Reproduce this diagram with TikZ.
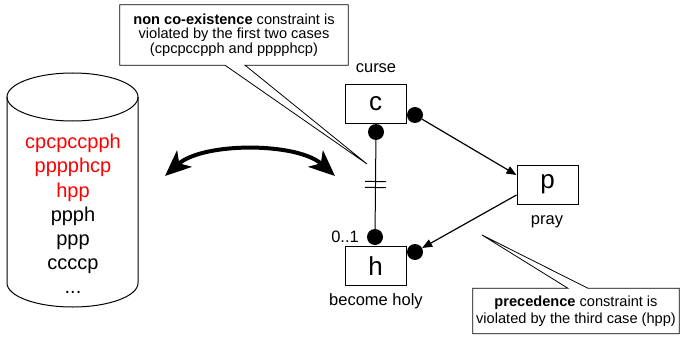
\documentclass[tikz,border=0pt]{standalone}
\usepackage{fontspec}
\setmainfont{Liberation Sans}
\usetikzlibrary{arrows.meta,decorations.markings}
\tikzset{
  attivita/.style = {rectangle, draw, line width=1pt, minimum width=61pt, minimum height=39pt, inner sep=0, font=\fontsize{26}{26}\selectfont},
  pallino/.style  = {circle, fill=black, minimum size=16pt, inner sep=0},
  lbl/.style      = {font=\fontsize{16.5}{18}\selectfont, inner sep=0},
  nota/.style     = {rectangle, inner sep=0, align=center},
  fumetto/.style  = {line width=0.8pt, line join=miter},
  link/.style     = {line width=1pt},
  freccia/.style  = {line width=1.2pt, -{Triangle[length=10pt,width=8pt]}},
  grossa/.style   = {line width=4pt, {Stealth[length=26pt,width=22pt,inset=7pt]}-{Stealth[length=26pt,width=22pt,inset=7pt]}},
  nocoex/.style   = {link, postaction={decorate}, decoration={markings, mark=at position .5 with {
      \draw[line width=1pt] (-3pt,-10.5pt) -- (-3pt,10.5pt) (3pt,-10.5pt) -- (3pt,10.5pt);}}}
}
\begin{document}
\begin{tikzpicture}[x=1pt, y=-1pt]
  \useasboundingbox (0,0) rectangle (680,337);

  % log delle tracce
  \draw[link] (7,97) -- (7,283) arc[start angle=180, end angle=360, x radius=65.5pt, y radius=24pt] -- (138,97);
  \draw[link] (72.5,97) ellipse [x radius=65.5pt, y radius=24pt];
  \node[nota, anchor=north, font=\fontsize{20}{24.2}\selectfont] (casi) at (73,134) {%
    \textcolor{red}{cpcpccpph}\\ \textcolor{red}{pppphcp}\\ \textcolor{red}{hpp}\\ ppph\\ ppp\\ ccccp\\ ...};

  % freccia doppia
  \coordinate (dbl) at (165,176);
  \coordinate (dbr) at (335,176);
  \draw[grossa] (dbl) .. controls (203,142) and (297,142) .. (dbr);

  % modello
  \node[attivita] (c) at (375.5,103.5) {c};
  \node[attivita] (h) at (375.5,266) {h};
  \node[attivita] (p) at (547.5,184.5) {p};

  \node[pallino] (cb) at (376,132) {};
  \node[pallino] (cr) at (415,115) {};
  \node[pallino] (ht) at (375,237) {};
  \node[pallino] (hr) at (415,252) {};

  \node[lbl] (curse) at (376,68) {curse};
  \node[lbl] (pray) at (547,222) {pray};
  \node[lbl] (holy) at (376,301) {become holy};
  \node[lbl, anchor=east] (card) at (359,237) {0..1};

  \draw[nocoex] (cb) -- (ht);
  \draw[freccia] (cr) -- ([yshift=9.5pt]p.west);
  \draw[freccia] ([yshift=-10.5pt]p.west) -- (hr);

  % note
  \node[nota, minimum width=228pt, minimum height=60pt, font=\fontsize{14.6}{14.5}\selectfont] (nc) at (234,35) {%
    \textbf{non co-existence} constraint is\\violated by the first two cases\\(cpcpccpph and pppphcp)};
  \coordinate (nctip) at (367,164);
  \draw[fumetto] (nc.north west) -- (nc.north east) -- (nc.south east) -- ([xshift=11pt]nc.south)
    -- (nctip) -- ([xshift=-9pt]nc.south) -- (nc.south west) -- cycle;

  \node[nota, minimum width=206pt, minimum height=45pt, font=\fontsize{14.6}{17}\selectfont] (pc) at (576,311) {%
    \textbf{precedence} constraint is\\violated by the third case (hpp)};
  \coordinate (pctip) at (482,235);
  \draw[fumetto] (pc.south west) -- (pc.north west) -- ([xshift=-8pt]pc.north) -- (pctip)
    -- ([xshift=12pt]pc.north) -- (pc.north east) -- (pc.south east) -- cycle;

\end{tikzpicture}
\end{document}
